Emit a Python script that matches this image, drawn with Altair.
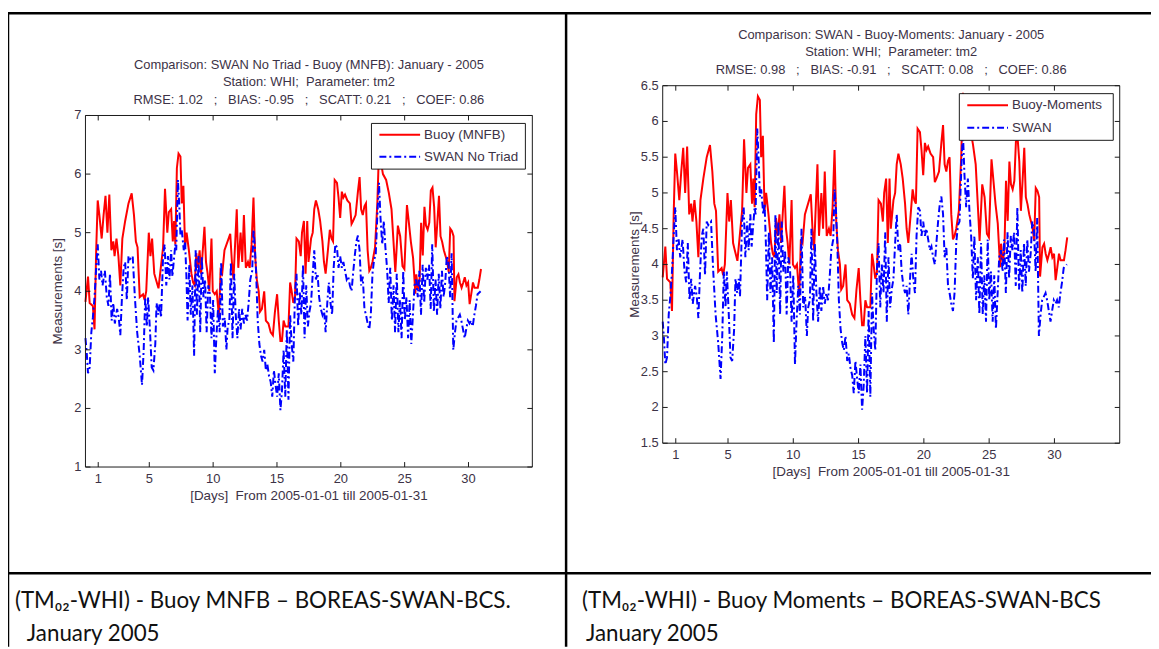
import altair as alt
import pandas as pd

# ---------------- data ----------------
buoy_days = [0.00, 0.20, 0.33, 0.58, 0.71, 0.84, 0.96, 1.09, 1.27, 1.42, 1.57, 1.72, 1.87, 2.03, 2.18, 2.28,
             2.43, 2.58, 2.73, 2.89, 3.11, 3.37, 3.62, 3.80, 3.95, 4.08, 4.25, 4.51, 4.63, 4.76, 4.96, 5.09,
             5.22, 5.39, 5.52, 5.72, 5.90, 6.08, 6.23, 6.41, 6.53, 6.71, 6.84, 6.94, 7.04, 7.16, 7.29, 7.44,
             7.54, 7.67, 7.80, 7.92, 8.10, 8.30, 8.43, 8.56, 8.68, 8.81, 8.94, 9.06, 9.32, 9.44, 9.57, 9.70,
             9.87, 9.97, 10.13, 10.28, 10.46, 10.58, 10.71, 10.89, 11.34, 11.47, 11.59, 11.85, 11.97, 12.15,
             12.28, 12.41, 12.56, 12.73, 12.86, 13.01, 13.16, 13.29, 13.42, 13.57, 13.67, 13.82, 14.00, 14.13,
             14.33, 14.51, 14.68, 14.84, 15.01, 15.14, 15.27, 15.39, 15.52, 15.65, 15.77, 15.90, 16.03, 16.15,
             16.28, 16.41, 16.53, 16.71, 16.86, 16.96, 17.11, 17.24, 17.37, 17.47, 17.67, 17.80, 17.92, 18.05,
             18.23, 18.38, 18.56, 18.68, 18.81, 18.99, 19.14, 19.27, 19.39, 19.52, 19.70, 19.82, 19.95, 20.08,
             20.20, 20.33, 20.51, 20.71, 20.84, 20.96, 21.16, 21.34, 21.47, 21.59, 21.72, 21.85, 21.97, 22.10,
             22.23, 22.35, 22.48, 22.68, 22.86, 22.99, 23.30, 23.55, 23.76, 23.97, 24.14, 24.27, 24.47, 24.65,
             24.83, 24.98, 25.18, 25.33, 25.49, 25.66, 25.84, 25.91, 26.04, 26.17, 26.29, 26.42, 26.55, 26.67,
             26.80, 26.93, 27.05, 27.18, 27.31, 27.43, 27.56, 27.69, 27.81, 27.94, 28.07, 28.19, 28.32, 28.45,
             28.57, 28.70, 28.83, 28.90, 29.08, 29.21, 29.33, 29.46, 29.59, 29.71, 29.84, 29.97, 30.09, 30.22,
             30.35, 30.47, 30.73, 30.85, 30.98]
buoy_vals = [3.82, 4.25, 3.80, 3.75, 3.35, 4.70, 5.55, 5.30, 4.90, 5.30, 5.63, 5.00, 5.65, 4.70, 4.85, 4.60,
             4.90, 4.60, 4.10, 4.90, 5.20, 5.50, 5.67, 5.30, 4.85, 4.75, 3.90, 3.95, 3.85, 4.00, 5.00, 4.60,
             4.90, 4.30, 4.20, 4.05, 4.40, 4.75, 5.75, 5.00, 5.35, 5.40, 4.85, 5.20, 4.80, 6.10, 6.35, 6.30,
             5.50, 5.80, 4.75, 5.00, 4.70, 4.30, 4.15, 4.10, 4.65, 4.40, 4.70, 4.30, 5.10, 4.50, 4.30, 4.00,
             4.90, 4.00, 3.95, 4.00, 3.55, 4.35, 4.30, 4.70, 4.98, 4.50, 4.20, 5.40, 4.40, 5.00,
             4.50, 5.30, 4.40, 4.50, 4.40, 4.80, 5.60, 4.60, 4.20, 4.00, 3.65, 3.70, 4.00, 3.50,
             3.45, 3.30, 3.25, 3.65, 3.95, 3.50, 3.15, 3.15, 3.50, 3.40, 3.40, 3.40, 4.15, 4.00,
             3.80, 3.90, 4.90, 4.85, 4.60, 5.00, 5.20, 4.30, 5.20, 4.50, 4.90, 5.00, 5.40, 5.55,
             5.40, 5.20, 4.85, 4.50, 4.30, 4.70, 5.05, 4.90, 4.85, 5.90, 5.85, 5.60, 5.25, 5.70,
             5.60, 5.65, 5.55, 5.50, 5.15, 5.20, 5.30, 5.70, 5.95, 5.40, 5.30, 5.45, 5.50, 4.70,
             4.35, 4.40, 4.50, 4.75, 5.50, 6.40, 6.00, 5.90, 5.68, 5.40, 4.80, 4.33, 5.12, 4.94,
             4.43, 4.38, 5.47, 5.17, 4.84, 4.57, 3.96, 4.29, 4.03, 4.20, 5.17, 4.61, 5.44, 5.12,
             5.05, 5.17, 5.72, 5.77, 5.44, 4.75, 5.17, 5.63, 4.94, 4.84, 4.70, 4.61, 4.52, 4.33,
             5.07, 5.03, 4.94, 3.83, 4.24, 4.29, 4.15, 4.06, 4.15, 4.24, 4.10, 4.15, 3.78, 3.96,
             4.15, 4.06, 4.06, 4.20, 4.38]

swan_days = [0.00, 0.10, 0.20, 0.33, 0.46, 0.58, 0.71, 0.84, 0.96, 1.09, 1.22, 1.34, 1.52, 1.67, 1.80, 1.92,
             2.05, 2.18, 2.30, 2.48, 2.61, 2.73, 2.86, 2.99, 3.11, 3.24, 3.37, 3.49, 3.70, 3.87, 4.05, 4.25,
             4.43, 4.56, 4.68, 4.81, 4.91, 5.06, 5.19, 5.32, 5.47, 5.57, 5.70, 5.82, 5.92, 6.08, 6.20, 6.33,
             6.46, 6.58, 6.71, 6.81, 6.91, 7.04, 7.11, 7.24, 7.34, 7.44, 7.54, 7.70, 7.80, 7.90, 8.00, 8.13,
             8.25, 8.38, 8.51, 8.63, 8.73, 8.86, 8.99, 9.11, 9.24, 9.37, 9.49, 9.62, 9.75, 9.87, 10.00, 10.13,
             10.25, 10.38, 10.51, 10.63, 10.76, 10.91, 11.04, 11.14, 11.27, 11.39, 11.52, 11.65, 11.77, 11.90,
             12.03, 12.15, 12.28, 12.41, 12.53, 12.66, 12.78, 12.91, 13.06, 13.16, 13.27, 13.37, 13.49, 13.62,
             13.75, 13.87, 14.00, 14.13, 14.25, 14.38, 14.51, 14.63, 14.76, 14.89, 15.01, 15.14, 15.27, 15.39,
             15.52, 15.65, 15.77, 15.90, 16.03, 16.15, 16.28, 16.41, 16.53, 16.66, 16.78, 16.91, 17.04, 17.16,
             17.29, 17.42, 17.54, 17.67, 17.80, 17.92, 18.05, 18.18, 18.30, 18.43, 18.56, 18.68, 18.81, 18.94,
             19.06, 19.19, 19.32, 19.44, 19.57, 19.70, 19.82, 19.95, 20.08, 20.20, 20.33, 20.46, 20.58, 20.71,
             20.84, 20.96, 21.09, 21.22, 21.34, 21.47, 21.59, 21.72, 21.85, 21.97, 22.10, 22.23, 22.35, 22.48,
             22.61, 22.73, 22.86, 22.99, 23.11, 23.24, 23.37, 23.49, 23.62, 23.75, 23.87, 24.00, 24.13, 24.25,
             24.38, 24.51, 24.63, 24.76, 24.89, 25.01, 25.14, 25.27, 25.39, 25.52, 25.65, 25.77, 25.90, 26.03,
             26.15, 26.28, 26.41, 26.53, 26.66, 26.78, 26.91, 27.04, 27.16, 27.29, 27.42, 27.54, 27.67, 27.80,
             27.92, 28.05, 28.18, 28.30, 28.43, 28.56, 28.68, 28.81, 28.94, 29.06, 29.19, 29.32, 29.44, 29.57,
             29.70, 29.82, 29.95, 30.08, 30.20, 30.33, 30.46, 30.58, 30.71, 30.95]
swan_vals = [3.20, 2.95, 2.60, 2.70, 3.30, 3.55, 3.90, 4.40, 4.80, 4.20, 4.35, 4.10, 4.35, 3.90, 3.75, 4.30,
             3.50, 3.80, 3.45, 3.70, 3.55, 3.25, 3.90, 4.40, 4.50, 3.85, 4.60, 4.55, 4.60, 3.90, 3.30, 2.90,
             2.40, 3.00, 3.90, 3.40, 3.90, 3.30, 2.70, 2.65, 3.10, 3.80, 3.60, 3.80, 3.55, 4.60, 4.80, 4.10,
             4.60, 4.20, 4.70, 4.25, 4.50, 4.80, 4.70, 5.90, 5.50, 4.95, 5.05, 4.70, 4.85, 4.30, 3.50, 4.45,
             3.60, 4.10, 2.90, 4.70, 3.60, 4.60, 3.30, 4.60, 3.90, 4.20, 3.30, 4.10, 3.95, 3.20, 3.85, 2.60,
             3.20, 3.70, 3.30, 4.50, 3.40, 3.55, 3.00, 3.40, 3.50, 4.50, 3.20, 4.30, 3.60, 3.20,
             3.70, 3.35, 3.70, 3.45, 3.60, 3.50, 3.80, 4.20, 4.35, 5.05, 4.75, 4.30, 3.50, 3.10,
             2.90, 2.80, 3.00, 2.65, 2.75, 2.55, 2.45, 2.20, 2.65, 2.40, 2.20, 2.60, 1.97, 2.30,
             3.00, 2.20, 3.35, 2.15, 3.60, 3.10, 2.80, 3.95, 4.30, 3.40, 4.00, 3.60, 4.45, 3.20,
             4.10, 3.40, 3.65, 3.80, 4.30, 4.70, 4.20, 4.30, 3.90, 3.70, 3.60, 3.70, 3.30, 3.80,
             4.15, 3.80, 3.60, 4.40, 4.80, 4.75, 4.40, 4.60, 4.40, 4.50, 4.35, 4.20, 4.25, 4.10,
             4.00, 4.30, 4.60, 4.85, 4.95, 4.70, 4.10, 4.25, 3.70, 3.60, 3.45, 3.35, 3.60, 4.30,
             4.55, 4.60, 5.30, 5.85, 5.25, 4.80, 5.20, 4.75, 4.40, 3.80, 4.40, 3.50, 4.10, 3.30,
             4.30, 3.30, 3.85, 3.20, 4.35, 3.50, 3.90, 3.20, 3.85, 3.10, 3.60, 4.10, 4.20, 3.90,
             4.35, 3.60, 4.45, 3.80, 4.40, 4.20, 4.45, 3.70, 4.80, 3.65, 4.20, 3.60, 4.30, 3.70,
             4.35, 3.90, 4.15, 4.60, 4.50, 3.90, 4.65, 3.00, 3.30, 3.50, 3.55, 3.60, 3.50, 3.35,
             3.20, 3.35, 3.50, 3.45, 3.50, 3.40, 3.60, 3.75, 3.95, 4.00]

x_ticks = [1, 5, 10, 15, 20, 25, 30]
x_tick_labels = ["1", "5", "10", "15", "20", "25", "30"]
left_y_ticks = [1, 2, 3, 4, 5, 6, 7]
left_y_tick_labels = ["1", "2", "3", "4", "5", "6", "7"]
right_y_ticks = [1.5, 2, 2.5, 3, 3.5, 4, 4.5, 5, 5.5, 6, 6.5]
right_y_tick_labels = ["1.5", "2", "2.5", "3", "3.5", "4", "4.5", "5", "5.5", "6", "6.5"]

NB = "\u00a0"
left_titles = ["Comparison: SWAN No Triad - Buoy (MNFB): January - 2005",
               "Station: WHI;" + NB + " Parameter: tm2",
               "RMSE: 1.02" + NB * 3 + ";" + NB * 3 + "BIAS: -0.95" + NB * 3 + ";" + NB * 3
               + "SCATT: 0.21" + NB * 3 + ";" + NB * 3 + "COEF: 0.86"]
right_titles = ["Comparison: SWAN - Buoy-Moments: January - 2005",
                "Station: WHI;" + NB + " Parameter: tm2",
                "RMSE: 0.98" + NB * 3 + ";" + NB * 3 + "BIAS: -0.91" + NB * 3 + ";" + NB * 3
                + "SCATT: 0.08" + NB * 3 + ";" + NB * 3 + "COEF: 0.86"]
left_legend = ["Buoy (MNFB)", "SWAN No Triad"]
right_legend = ["Buoy-Moments", "SWAN"]
x_label = "[Days]" + NB + " From 2005-01-01 till 2005-01-31"
y_label = "Measurements [s]"
left_caption = ["(TM\u2080\u2082-WHI) - Buoy MNFB \u2013 BOREAS-SWAN-BCS.", "January 2005"]
right_caption = ["(TM\u2080\u2082-WHI) - Buoy Moments \u2013 BOREAS-SWAN-BCS", "January 2005"]

# ---------------- styling / layout ----------------
W, H = 1151, 641
TXT = "#3c3246"
FONT = "Liberation Sans"
CAPFONT = "Lato"
RED = "#ff0000"
BLUE = "#0000ff"
one = pd.DataFrame({"a": [0]})


def panel(x0, x1, y0, y1, ydom, yticks, ylabels, titles, legend_names,
          red_d, red_v, blue_d, blue_v, leg_box):
    xs = alt.Scale(domain=[0, 35], range=[x0, x1])
    ys = alt.Scale(domain=ydom, range=[y1, y0])
    L = []
    red_df = pd.DataFrame({"day": red_d, "v": red_v})
    blue_df = pd.DataFrame({"day": blue_d, "v": blue_v})
    L.append(alt.Chart(red_df).mark_line(color=RED, strokeWidth=2).encode(
        x=alt.X("day:Q", scale=xs, axis=None), y=alt.Y("v:Q", scale=ys, axis=None)))
    L.append(alt.Chart(blue_df).mark_line(color=BLUE, strokeWidth=2, strokeDash=[7, 3, 2, 3]).encode(
        x=alt.X("day:Q", scale=xs, axis=None), y=alt.Y("v:Q", scale=ys, axis=None)))
    # frame
    L.append(alt.Chart(one).mark_rect(filled=False, stroke="#1a1a1a", strokeWidth=1).encode(
        x=alt.value(x0), x2=alt.value(x1), y=alt.value(y0), y2=alt.value(y1)))
    # x ticks (inward, bottom & top) and labels
    xt = pd.DataFrame({"t": x_ticks, "lab": x_tick_labels})
    for ya, yb in [(y1, y1 - 5), (y0, y0 + 5)]:
        L.append(alt.Chart(xt).mark_rule(color="#1a1a1a", strokeWidth=1).encode(
            x=alt.X("t:Q", scale=xs, axis=None), y=alt.value(ya), y2=alt.value(yb)))
    L.append(alt.Chart(xt).mark_text(font=FONT, fontSize=13, color=TXT, baseline="middle").encode(
        x=alt.X("t:Q", scale=xs, axis=None), y=alt.value(y1 + 12), text="lab:N"))
    # y ticks (inward, left & right) and labels
    yt = pd.DataFrame({"t": yticks, "lab": ylabels})
    for xa, xb in [(x0, x0 + 5), (x1, x1 - 5)]:
        L.append(alt.Chart(yt).mark_rule(color="#1a1a1a", strokeWidth=1).encode(
            y=alt.Y("t:Q", scale=ys, axis=None), x=alt.value(xa), x2=alt.value(xb)))
    L.append(alt.Chart(yt).mark_text(font=FONT, fontSize=13, color=TXT, baseline="middle",
                                     align="right").encode(
        y=alt.Y("t:Q", scale=ys, axis=None), x=alt.value(x0 - 4), text="lab:N"))
    # titles
    cx = (x0 + x1) / 2
    tdf = pd.DataFrame({"x": [cx] * 3, "y": [y0 - 51, y0 - 34, y0 - 16], "text": titles})
    L.append(alt.Chart(tdf).mark_text(font=FONT, fontSize=13, color=TXT, baseline="middle").encode(
        x=alt.X("x:Q", scale=None), y=alt.Y("y:Q", scale=None), text="text:N"))
    # axis titles
    L.append(alt.Chart(pd.DataFrame({"text": [x_label]})).mark_text(
        font=FONT, fontSize=13.5, color=TXT, baseline="middle").encode(
        x=alt.value(cx), y=alt.value(y1 + 29), text="text:N"))
    L.append(alt.Chart(pd.DataFrame({"text": [y_label]})).mark_text(
        font=FONT, fontSize=13.5, color=TXT, baseline="middle", angle=270).encode(
        x=alt.value(x0 - 28), y=alt.value((y0 + y1) / 2), text="text:N"))
    # legend
    lx0, lx1, ly0, ly1 = leg_box
    L.append(alt.Chart(one).mark_rect(fill="white", stroke="#1a1a1a", strokeWidth=1).encode(
        x=alt.value(lx0), x2=alt.value(lx1), y=alt.value(ly0), y2=alt.value(ly1)))
    r1 = ly0 + (ly1 - ly0) * 0.25
    r2 = ly0 + (ly1 - ly0) * 0.73
    L.append(alt.Chart(one).mark_rule(color=RED, strokeWidth=2).encode(
        x=alt.value(lx0 + 8), x2=alt.value(lx0 + 49), y=alt.value(r1)))
    L.append(alt.Chart(one).mark_rule(color=BLUE, strokeWidth=2, strokeDash=[7, 3, 2, 3]).encode(
        x=alt.value(lx0 + 8), x2=alt.value(lx0 + 49), y=alt.value(r2)))
    ldf = pd.DataFrame({"y": [r1, r2], "text": legend_names})
    L.append(alt.Chart(ldf).mark_text(font=FONT, fontSize=13.5, color=TXT, baseline="middle",
                                      align="left").encode(
        x=alt.value(lx0 + 53), y=alt.Y("y:Q", scale=None), text="text:N"))
    return L


layers = []
# table lines
tl = pd.DataFrame({"x": [0, 0, 562, 0], "x2": [W, 0, 562, W],
                   "y": [3, 3, 3, 567], "y2": [3, H, H, 567]})
layers.append(alt.Chart(tl).mark_rule(color="#000000", strokeWidth=2.5).encode(
    x=alt.X("x:Q", scale=None), x2="x2:Q", y=alt.Y("y:Q", scale=None), y2="y2:Q"))

layers += panel(78, 528, 106, 460, [1, 7], left_y_ticks, left_y_tick_labels, left_titles,
                left_legend, buoy_days, buoy_vals, swan_days, swan_vals, (366, 521, 114, 160))
layers += panel(659.3, 1119.5, 76, 436, [1.5, 6.5], right_y_ticks, right_y_tick_labels,
                right_titles, right_legend, buoy_days, buoy_vals, swan_days, swan_vals,
                (958, 1113, 84, 131))

# captions
cap = pd.DataFrame({"x": [7, 19, 578, 582], "y": [595, 628, 595, 628],
                    "text": [left_caption[0], left_caption[1], right_caption[0], right_caption[1]]})
layers.append(alt.Chart(cap).mark_text(font=CAPFONT, fontSize=22.5, color="#111111", baseline="middle",
                                       align="left").encode(
    x=alt.X("x:Q", scale=None), y=alt.Y("y:Q", scale=None), text="text:N"))

chart = alt.layer(*layers).resolve_scale(x="independent", y="independent").properties(
    width=W, height=H, autosize=alt.AutoSizeParams(type="none"), padding=0
).configure_view(stroke=None)

chart.save("out.html", embed_options={"renderer": "svg", "actions": False})
